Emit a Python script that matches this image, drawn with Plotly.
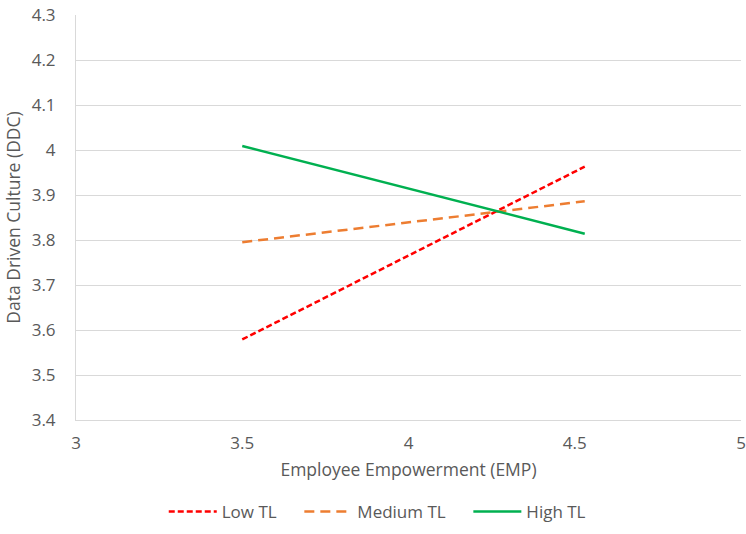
import plotly.graph_objects as go

emp_levels = [3.5, 4.53]
low_tl = [3.579, 3.963]
medium_tl = [3.795, 3.886]
high_tl = [4.009, 3.814]
series_names = ["Low TL", "Medium TL", "High TL"]

pad = "\u00a0" * 4
fig = go.Figure()
fig.add_trace(go.Scatter(x=emp_levels, y=low_tl, mode="lines", name=series_names[0] + pad,
                         line=dict(color="#ff0000", width=2.5, dash="6px,3px")))
fig.add_trace(go.Scatter(x=emp_levels, y=medium_tl, mode="lines", name=series_names[1] + pad,
                         line=dict(color="#ed7d31", width=2.5, dash="10px,6px")))
fig.add_trace(go.Scatter(x=emp_levels, y=high_tl, mode="lines", name=series_names[2],
                         line=dict(color="#00b050", width=2.5)))

font_family = "'Open Sans', sans-serif"
fig.update_layout(
    width=746, height=534,
    margin=dict(l=76, r=5, t=15, b=113),
    paper_bgcolor="white", plot_bgcolor="white",
    font=dict(family=font_family, size=17, color="#595959"),
    xaxis=dict(range=[3, 5], tickvals=[3, 3.5, 4, 4.5, 5], ticktext=["3", "3.5", "4", "4.5", "5"],
               showgrid=False, zeroline=False, showline=True, linecolor="#d9d9d9", linewidth=1,
               ticks="", ticklen=0, automargin=False, ticklabelstandoff=8,
               title=dict(text="Employee Empowerment (EMP)", font=dict(size=17.5), standoff=10)),
    yaxis=dict(range=[3.4, 4.3], tickvals=[3.4, 3.5, 3.6, 3.7, 3.8, 3.9, 4.0, 4.1, 4.2, 4.3],
               ticktext=["3.4", "3.5", "3.6", "3.7", "3.8", "3.9", "4", "4.1", "4.2", "4.3"],
               showgrid=True, gridcolor="#d9d9d9", gridwidth=1, zeroline=False,
               showline=True, linecolor="#d9d9d9", linewidth=1, ticks="", automargin=False,
               ticklabelstandoff=16,
               title=dict(text="Data Driven Culture (DDC)", font=dict(size=17.5), standoff=6)),
    legend=dict(orientation="h", x=0.453, xanchor="center", y=-0.224, yanchor="middle",
                font=dict(size=17), itemwidth=48, tracegroupgap=0),
    showlegend=True,
)

fig.write_html("out.html", config={"displayModeBar": False},
               post_script="document.body.style.margin='0';")
